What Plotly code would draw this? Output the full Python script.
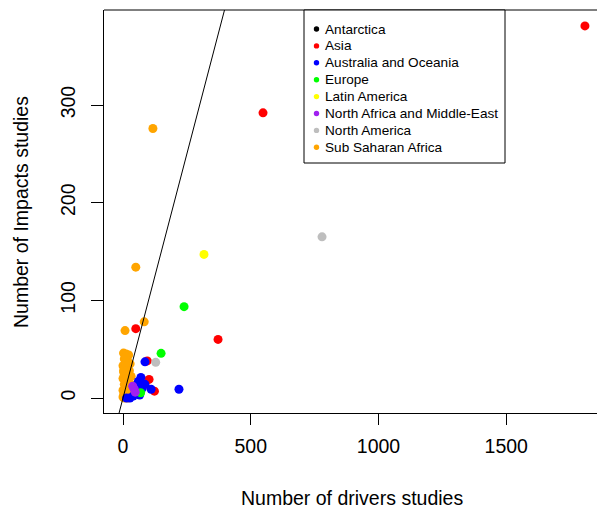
import plotly.graph_objects as go

# ---------------- data ----------------
regions = ["Antarctica", "Asia", "Australia and Oceania", "Europe", "Latin America",
           "North Africa and Middle-East", "North America", "Sub Saharan Africa"]
colors = ["#000000", "#FF0000", "#0000FF", "#00FF00", "#FFFF00", "#A020F0", "#BEBEBE", "#FFA500"]

antarctica_x = []
antarctica_y = []
asia_x = [1808, 548, 372, 50, 95, 102, 123]
asia_y = [381, 292, 60, 71, 38, 19, 7]
australia_x = [86, 70, 110, 219, 86, 60, 75, 53, 45, 65, 27, 14, 40]
australia_y = [37, 21, 9, 9, 14, 17, 10, 5, 12, 3, 0, 0, 2]
europe_x = [239, 149, 69]
europe_y = [93.5, 45.7, 5.4]
latam_x = [317]
latam_y = [147]
mena_x = [44, 38, 48]
mena_y = [9, 12, 6]
namerica_x = [779, 128]
namerica_y = [165, 36.5]
ssa_x = [8, 83, 50, 117, 2, 12, 22, 5, 18, 28, 0, 10, 25, 3, 15, 32, 0, 8, 20, 5,
         14, 26, 0, 10, 20, 3, 12, 0, 6, 18, 30, 2, 10]
ssa_y = [69, 78, 134, 276, 46, 45, 44, 40, 38, 35, 33, 31, 28, 26, 24, 22, 20, 18, 16, 14,
         12, 10, 8, 7, 5, 4, 2, 1, 0, 0, 14, 28, 42]

x_ticks = [0, 500, 1000, 1500]
y_ticks = [0, 100, 200, 300]
x_title = "Number of drivers studies"
y_title = "Number of Impacts studies"
abline_intercept = 0
abline_slope = 1

series = {
    "Antarctica": (antarctica_x, antarctica_y),
    "Asia": (asia_x, asia_y),
    "Australia and Oceania": (australia_x, australia_y),
    "Europe": (europe_x, europe_y),
    "Latin America": (latam_x, latam_y),
    "North Africa and Middle-East": (mena_x, mena_y),
    "North America": (namerica_x, namerica_y),
    "Sub Saharan Africa": (ssa_x, ssa_y),
}
draw_order = ["Sub Saharan Africa", "Asia", "North America", "Australia and Oceania",
              "Europe", "North Africa and Middle-East", "Latin America", "Antarctica"]

# ---------------- layout geometry ----------------
W, H = 597, 510
ML, MR, MT, MB = 104, 0, 10, 97
PW, PH = W - ML - MR, H - MT - MB
XR = [-74.4, 1855.2]
YR = [-15.36, 397.3]
FONT = "Liberation Sans, Arial, sans-serif"

def px_x(px):
    return (px - ML) / PW

def px_y(py):
    return (H - MB - py) / PH

fig = go.Figure()
for name in draw_order:
    xs, ys = series[name]
    c = colors[regions.index(name)]
    fig.add_trace(go.Scatter(x=xs, y=ys, mode="markers", name=name,
                             marker=dict(color=c, size=9, line=dict(width=0)),
                             showlegend=False, cliponaxis=True))

# abline y = a + b x across the x range
fig.add_trace(go.Scatter(x=XR, y=[abline_intercept + abline_slope * v for v in XR],
                         mode="lines", line=dict(color="black", width=1),
                         showlegend=False, hoverinfo="skip"))

shapes = []
annotations = []
# top border of box
shapes.append(dict(type="line", xref="paper", yref="paper", x0=0, x1=1, y0=1, y1=1,
                   line=dict(color="black", width=1)))

# legend box
lx0, lx1, ly0, ly1 = 304, 505, 10, 163
shapes.append(dict(type="rect", xref="paper", yref="paper",
                   x0=px_x(lx0), x1=px_x(lx1), y0=px_y(ly1), y1=px_y(ly0),
                   line=dict(color="black", width=1), fillcolor="white", layer="above"))
for i, name in enumerate(regions):
    cy = 29 + 16.9 * i
    shapes.append(dict(type="circle", xref="paper", yref="paper",
                       xsizemode="pixel", ysizemode="pixel",
                       xanchor=px_x(316.5), yanchor=px_y(cy),
                       x0=-2.7, x1=2.7, y0=-2.7, y1=2.7,
                       fillcolor=colors[i], line=dict(width=0), layer="above"))
    annotations.append(dict(text=name, xref="paper", yref="paper",
                            x=px_x(323), y=px_y(cy), xanchor="left", yanchor="middle",
                            showarrow=False, font=dict(family=FONT, size=13.6, color="black")))

# axis titles
annotations.append(dict(text=x_title, xref="paper", yref="paper",
                        x=px_x(352), y=px_y(498), xanchor="center", yanchor="middle",
                        showarrow=False, font=dict(family=FONT, size=19.5, color="black")))
annotations.append(dict(text=y_title, xref="paper", yref="paper",
                        x=px_x(21), y=px_y(212), xanchor="center", yanchor="middle",
                        textangle=-90, showarrow=False,
                        font=dict(family=FONT, size=19.5, color="black")))

fig.update_layout(
    width=W, height=H,
    margin=dict(l=ML, r=MR, t=MT, b=MB, pad=0),
    plot_bgcolor="white", paper_bgcolor="white",
    showlegend=False,
    shapes=shapes, annotations=annotations,
    font=dict(family=FONT, size=19.5, color="black"),
)
fig.update_xaxes(range=XR, tickvals=x_ticks, ticktext=[str(v) for v in x_ticks],
                 showgrid=False, zeroline=False, showline=True, linecolor="black", linewidth=1,
                 ticks="outside", ticklen=11, tickcolor="black", tickwidth=1,
                 tickfont=dict(family=FONT, size=19.5, color="black"), ticklabelstandoff=5)
fig.update_yaxes(range=YR, tickvals=y_ticks, ticktext=[str(v) for v in y_ticks],
                 showgrid=False, zeroline=False, showline=True, linecolor="black", linewidth=1,
                 ticks="outside", ticklen=12, tickcolor="black", tickwidth=1, tickangle=-90,
                 tickfont=dict(family=FONT, size=19.5, color="black"), ticklabelstandoff=8)

fig.write_html("out.html", config={"displayModeBar": False},
               post_script="document.body.style.margin='0';document.body.style.overflow='hidden';")
